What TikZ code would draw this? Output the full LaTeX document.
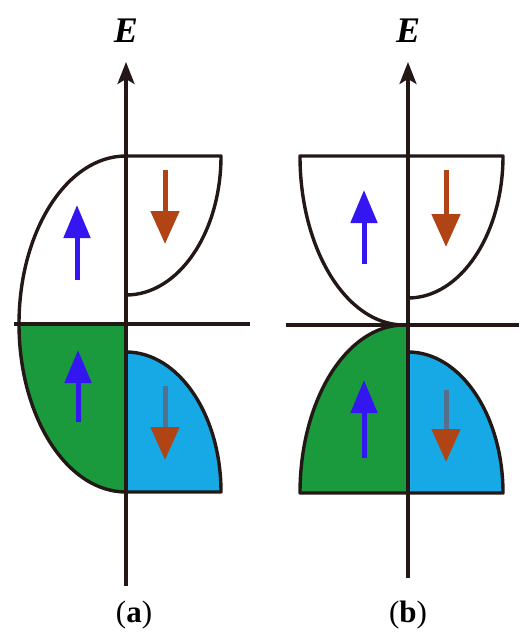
\documentclass[tikz,border=0pt]{standalone}
\usepackage{fontspec}
\setmainfont{Liberation Serif}
\usetikzlibrary{arrows.meta,calc}
\definecolor{lineC}{HTML}{231815}
\definecolor{greenC}{HTML}{1A9A3C}
\definecolor{blueC}{HTML}{17A9E6}
\definecolor{upC}{HTML}{3316F0}
\definecolor{downC}{HTML}{B04415}
\definecolor{downShaft}{HTML}{55708A}
\tikzset{
  band/.style={draw=lineC, line width=3.4pt, line join=round},
  axisline/.style={draw=lineC, line width=3.2pt},
  eaxis/.style={draw=lineC, line width=3.2pt, -{Stealth[width=17pt,length=22pt,inset=5pt]}},
  uparrow/.style={draw=upC, line width=5pt, -{Triangle[width=26pt,length=33pt]}},
  downarrow/.style={draw=downC, line width=5pt, -{Triangle[width=28pt,length=33pt]}},
  downarrowlow/.style={draw=downShaft, line width=5pt, -{Triangle[width=28pt,length=33pt,color=downC]}},
  elabel/.style={font=\fontsize{36}{38}\selectfont\bfseries\itshape, inner sep=0pt},
  plabel/.style={font=\fontsize{31}{33}\selectfont, inner sep=0pt},
}
% quarter ellipse from point #1 to point #2 with corner #3
\newcommand{\qarc}[3]{.. controls ($(#1)!0.5523!(#3)$) and ($(#2)!0.5523!(#3)$) .. (#2)}
\begin{document}
\begin{tikzpicture}[x=1pt,y=-1pt]
\useasboundingbox (0,0) rectangle (519,639);
%%%%%%%%%%%% panel (a)
\coordinate (aT) at (126,156);
\coordinate (aL) at (19,324);
\coordinate (aK1) at (19,156);
\coordinate (aTR) at (221,156);
\coordinate (aM) at (126,295);
\coordinate (aK2) at (221,295);
\coordinate (aO) at (126,324);
\coordinate (aGB) at (126,492);
\coordinate (aK3) at (19,492);
\coordinate (aBT) at (126,352);
\coordinate (aBR) at (221,492);
\coordinate (aK4) at (221,352);
% fills
\fill[greenC] (aL) -- (aO) -- (aGB) \qarc{aGB}{aL}{aK3} -- cycle;
\fill[blueC] (aBT) \qarc{aBT}{aBR}{aK4} -- (aGB) -- cycle;
% outlines
\draw[band] (aT) \qarc{aT}{aL}{aK1};
\draw[band] (aT) -- (aTR) \qarc{aTR}{aM}{aK2};
\draw[band] (aL) \qarc{aL}{aGB}{aK3};
\draw[band] (aBT) \qarc{aBT}{aBR}{aK4} -- (aGB);
% axes
\coordinate (aH1) at (14,324);
\coordinate (aH2) at (250,324);
\draw[axisline] (aH1) -- (aH2);
\coordinate (aV1) at (126,586);
\coordinate (aV2) at (126,62);
\draw[eaxis] (aV1) -- (aV2);
\node[elabel] (aE) at (126,31) {E};
% spin arrows
\coordinate (a1s) at (77,280); \coordinate (a1e) at (77,205);
\draw[uparrow] (a1s) -- (a1e);
\coordinate (a2s) at (165,170); \coordinate (a2e) at (165,244);
\draw[downarrow] (a2s) -- (a2e);
\coordinate (a3s) at (78,422); \coordinate (a3e) at (78,350);
\draw[uparrow] (a3s) -- (a3e);
\coordinate (a4s) at (165,386); \coordinate (a4e) at (165,460);
\draw[downarrowlow] (a4s) -- (a4e);
\node[plabel] (la) at (134,615) {(\textbf{a})};
%%%%%%%%%%%% panel (b)
\coordinate (bTL) at (300,156);
\coordinate (bO) at (404,325);
\coordinate (bK1) at (300,325);
\coordinate (bTR) at (503,156);
\coordinate (bM) at (408,298);
\coordinate (bK2) at (503,298);
\coordinate (bGL) at (300,493);
\coordinate (bGB) at (408,493);
\coordinate (bBT) at (408,352);
\coordinate (bBR) at (503,493);
\coordinate (bK4) at (503,352);
% fills
\fill[greenC] (bO) \qarc{bO}{bGL}{bK1} -- (bGB) -- (408,325) -- cycle;
\fill[blueC] (bBT) \qarc{bBT}{bBR}{bK4} -- (bGB) -- cycle;
% outlines
\draw[band] (bO) \qarc{bO}{bTL}{bK1} -- (bTR) \qarc{bTR}{bM}{bK2};
\draw[band] (bO) \qarc{bO}{bGL}{bK1} -- (bGB);
\draw[band] (bBT) \qarc{bBT}{bBR}{bK4} -- (bGB);
% axes
\coordinate (bH1) at (286,325);
\coordinate (bH2) at (519,325);
\draw[axisline] (bH1) -- (bH2);
\coordinate (bV1) at (408,578);
\coordinate (bV2) at (408,62);
\draw[eaxis] (bV1) -- (bV2);
\node[elabel] (bE) at (408,31) {E};
% spin arrows
\coordinate (b1s) at (364,264); \coordinate (b1e) at (364,190);
\draw[uparrow] (b1s) -- (b1e);
\coordinate (b2s) at (446,170); \coordinate (b2e) at (446,247);
\draw[downarrow] (b2s) -- (b2e);
\coordinate (b3s) at (364,458); \coordinate (b3e) at (364,380);
\draw[uparrow] (b3s) -- (b3e);
\coordinate (b4s) at (446,390); \coordinate (b4e) at (446,462);
\draw[downarrowlow] (b4s) -- (b4e);
\node[plabel] (lb) at (408,615) {(\textbf{b})};
\end{tikzpicture}
\end{document}
